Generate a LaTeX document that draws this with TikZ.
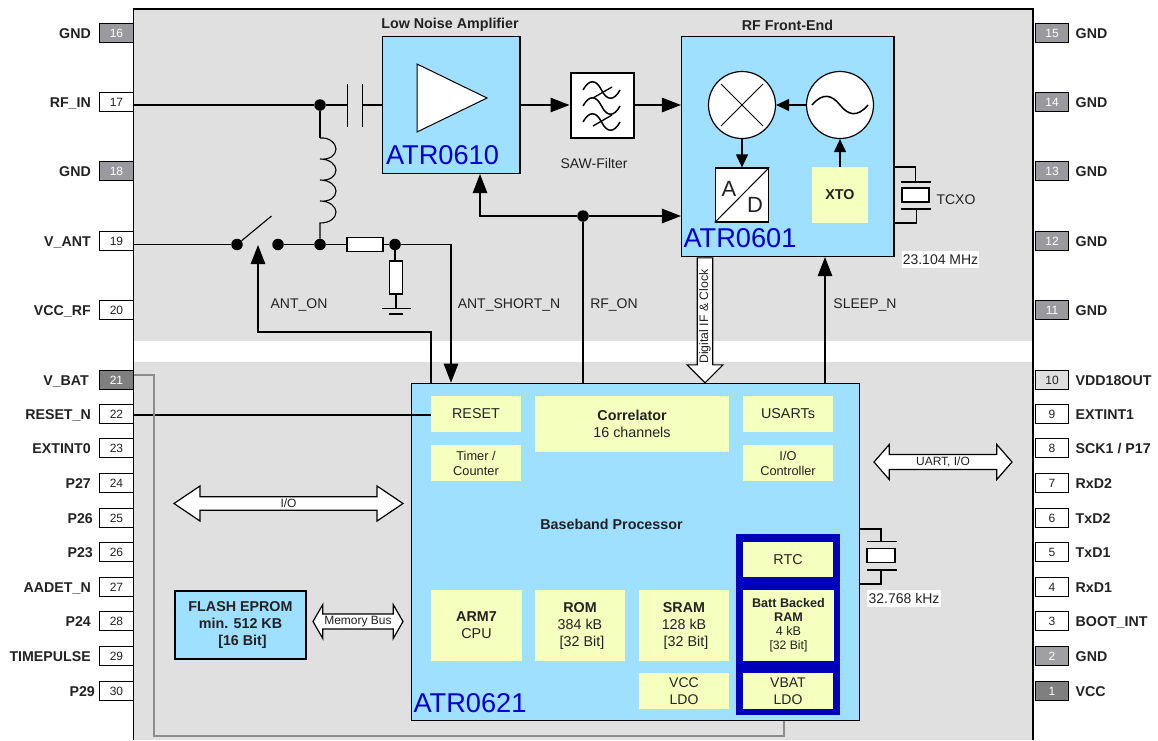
\documentclass[tikz,border=0pt]{standalone}
\usepackage{fontspec}
\setmainfont{Liberation Sans}
\usetikzlibrary{arrows.meta,shapes.arrows,calc}
\definecolor{chipgray}{HTML}{E0E0E0}
\definecolor{iceblue}{HTML}{9FDFFF}
\definecolor{paleyellow}{HTML}{F5FFBE}
\definecolor{deepblue}{HTML}{0000BB}
\definecolor{partblue}{HTML}{0000CC}
\definecolor{inkgray}{HTML}{222222}
\tikzset{
  pinbox/.style={draw=black,line width=1.1pt,minimum width=33.5pt,minimum height=19.5pt,inner sep=0pt,font=\fontsize{12}{14}\selectfont},
  pinname/.style={font=\fontsize{14.2}{16}\selectfont\bfseries,text=inkgray,inner sep=0pt,text height=10pt,text depth=0pt},
  caption/.style={font=\fontsize{14}{16}\selectfont,text=inkgray,inner sep=0pt,text height=10pt,text depth=0pt},
  title/.style={font=\fontsize{14.3}{16}\selectfont\bfseries,text=inkgray,inner sep=0pt},
  block/.style={draw=black,line width=1.1pt,fill=iceblue,inner sep=0pt},
  ybox/.style={fill=paleyellow,inner sep=0pt,align=center,text=inkgray,font=\fontsize{14.3}{17}\selectfont,execute at begin node={\vspace*{3pt}}},
  partno/.style={font=\fontsize{27.2}{30}\selectfont,text=partblue,inner sep=0pt},
  dot/.style={circle,fill=black,minimum size=11.5pt,inner sep=0pt},
  wire/.style={line width=1.1pt},
  sig/.style={line width=1.1pt,-{Triangle[length=19pt,width=14.5pt]}},
  smallsig/.style={line width=1.1pt,-{Triangle[length=13pt,width=12pt]}},
  bus/.style={double arrow,draw=black,line width=1.2pt,fill=white,inner sep=0pt,font=\fontsize{12}{14}\selectfont,text=inkgray},
}
\begin{document}
\begin{tikzpicture}[x=1pt,y=-1pt]
  \useasboundingbox (0,0) rectangle (1158,740);
  % package
  \fill[chipgray] (133.5,9) rectangle (1033,740);
  \fill[white] (134,341) rectangle (1032,362);
  \draw[line width=1.1pt] (133.5,740) -- (133.5,9) -- (1033,9) -- (1033,740);
  % left pins
  \foreach \n/\y/\f/\t/\s/\e in {16/33/GND/white/9A9A9E/91,17/102/RF\_IN/inkgray/FFFFFF/91,18/171/GND/white/9A9A9E/91,
      19/241/V\_ANT/inkgray/FFFFFF/91,20/310/VCC\_RF/inkgray/FFFFFF/91,21/380/V\_BAT/white/7F7F7F/89,
      22/414/RESET\_N/inkgray/FFFFFF/91,23/448/EXTINT0/inkgray/FFFFFF/91,24/483/P27/inkgray/FFFFFF/91,
      25/518/P26/inkgray/FFFFFF/93,26/552/P23/inkgray/FFFFFF/93,27/587/AADET\_N/inkgray/FFFFFF/91,
      28/621/P24/inkgray/FFFFFF/91,29/656/TIMEPULSE/inkgray/FFFFFF/91,30/691/P29/inkgray/FFFFFF/95}{
    \definecolor{pinfill}{HTML}{\s}
    \node[pinbox,fill=pinfill,text=\t] (pin\n) at (116.5,\y) {\n};
    \node[pinname,anchor=east] (name\n) at (\e,\y) {\f};
  }
  % right pins
  \foreach \n/\y/\f/\t/\s in {15/33/GND/white/9A9A9E,14/102/GND/white/9A9A9E,13/171/GND/white/9A9A9E,
      12/241/GND/white/9A9A9E,11/310/GND/white/9A9A9E,10/380/VDD18OUT/inkgray/DFDFDF,
      9/414/EXTINT1/inkgray/FFFFFF,8/448/{SCK1 / P17}/inkgray/FFFFFF,7/483/RxD2/inkgray/FFFFFF,
      6/518/TxD2/inkgray/FFFFFF,5/552/TxD1/inkgray/FFFFFF,4/587/RxD1/inkgray/FFFFFF,
      3/621/BOOT\_INT/inkgray/FFFFFF,2/656/GND/white/A0A0A4,1/691/VCC/white/7F7F7F}{
    \definecolor{pinfill}{HTML}{\s}
    \node[pinbox,fill=pinfill,text=\t] (pin\n) at (1052,\y) {\n};
    \node[pinname,anchor=west] (name\n) at (1075.5,\y) {\f};
  }
  % low noise amplifier
  \node[block,minimum width=137.5pt,minimum height=137pt] (lna) at (451.25,105) {};
  \node[title] (lnatitle) at (450,25) {Low Noise Amplifier};
  \node[partno] (atr0610) at (442.5,155) {ATR0610};
  \draw[line width=1pt,fill=white] (417,64) -- (487,98) -- (417,132) -- cycle;
  % saw filter
  \node[draw=black,line width=2pt,fill=white,minimum width=63pt,minimum height=65pt,inner sep=0pt] (saw) at (602,105) {};
  \node[caption] (sawname) at (594,163) {SAW-Filter};
  \foreach \y in {90,106,122}{
    \draw[line width=1.5pt] (583,\y) .. controls (589,\y-11) and (596,\y-11) .. (601.5,\y) .. controls (607,\y+11) and (614,\y+11) .. (620,\y);
  }
  \draw[line width=1.3pt] (593,98) -- (612,87);
  \draw[line width=1.3pt] (593,126) -- (612,115);
  % rf front end
  \node[block,minimum width=212.5pt,minimum height=220pt] (rffe) at (787.75,146.5) {};
  \node[title] (rftitle) at (787.5,25) {RF Front-End};
  \node[partno] (atr0601) at (740,238.5) {ATR0601};
  \node[circle,draw=black,line width=1.2pt,fill=white,minimum size=67pt,inner sep=0pt] (mixer) at (742,105) {};
  \node[circle,draw=black,line width=1.2pt,fill=white,minimum size=67pt,inner sep=0pt] (osc) at (840,105) {};
  \draw[line width=0.9pt] ($(mixer)+(-21,-21)$) -- ($(mixer)+(21,21)$);
  \draw[line width=0.9pt] ($(mixer)+(-21,21)$) -- ($(mixer)+(21,-21)$);
  \draw[line width=1.5pt] ($(osc)+(-28,0)$) .. controls ($(osc)+(-17,-13)$) and ($(osc)+(-8,-10)$) .. (osc.center) .. controls ($(osc)+(8,10)$) and ($(osc)+(17,13)$) .. ($(osc)+(28,0)$);
  \node[draw=black,line width=1.2pt,fill=white,minimum width=53.5pt,minimum height=54pt,inner sep=0pt] (adc) at (742,195) {};
  \draw[line width=1pt] (adc.south west) -- (adc.north east);
  \node[font=\fontsize{22}{24}\selectfont,inner sep=0pt,text=inkgray] (adca) at (729,188.5) {A};
  \node[font=\fontsize{22}{24}\selectfont,inner sep=0pt,text=inkgray] (adcd) at (755,205) {D};
  \node[ybox,minimum width=56pt,minimum height=56pt,font=\fontsize{14.3}{16}\selectfont\bfseries] (xto) at (840,195) {XTO};
  % tcxo
  \coordinate (tcxotop) at (915.5,182);
  \coordinate (tcxobot) at (916.5,209);
  \draw[line width=1.5pt] (rffe.east|-0,167) -| (tcxotop);
  \draw[line width=1.5pt] (rffe.east|-0,223) -| (tcxobot);
  \draw[line width=1.5pt] (901,182) -- (931,182) (901,209) -- (931,209);
  \node[draw=black,line width=1.2pt,fill=white,minimum width=27pt,minimum height=14pt,inner sep=0pt] (tcxo) at (915.5,195) {};
  \node[caption] (tcxoname) at (956,199) {TCXO};
  \node[caption,fill=white,minimum width=77pt,minimum height=17pt] (tcxofreq) at (940.5,259.5) {23.104 MHz};
  % signal wires
  \node[dot] (dotrf) at (320,105) {};
  \node[dot] (dotsw) at (237,244.5) {};
  \node[dot] (dotopen) at (278,244.5) {};
  \node[dot] (dotant) at (320,244.5) {};
  \node[dot] (dotshort) at (395,244.5) {};
  \node[dot] (doton) at (583,216) {};
  \coordinate (capa) at (347,105);
  \coordinate (capb) at (362,105);
  \draw[wire] (pin17.east|-dotrf) -- (dotrf) -- (capa);
  \draw[line width=1pt] (347,84) -- (347,127) (362,84) -- (362,127);
  \draw[wire] (capb) -- (lna.west|-capb);
  \draw[wire] (dotrf) -- (320,138);
  \draw[wire] (320,138) .. controls (330,137) and (336,144) .. (336,149) .. controls (336,155) and (330,160) .. (320,159)
     .. controls (330,159) and (336,165) .. (336,170) .. controls (336,176) and (330,181) .. (320,180)
     .. controls (330,180) and (336,186) .. (336,191) .. controls (336,197) and (330,202) .. (320,201)
     .. controls (330,201) and (336,207) .. (336,212) .. controls (336,218) and (330,223) .. (320,223) -- (dotant);
  \draw[wire] (pin19.east|-dotsw) -- (dotsw);
  \draw[wire] (dotsw) -- (271.5,216);
  \draw[wire] (dotopen) -- (dotant);
  \draw[wire] (dotant) -- (dotshort);
  \node[draw=black,line width=1.1pt,fill=white,minimum width=36pt,minimum height=13.5pt,inner sep=0pt] (rser) at (365,244.5) {};
  \node[draw=black,line width=1.1pt,fill=white,minimum width=12.5pt,minimum height=33pt,inner sep=0pt] (rshunt) at (396,277.5) {};
  \coordinate (gnda) at (396,308.5);
  \draw[wire] (dotshort) -- (dotshort|-rshunt.north) (rshunt.south) -- (gnda);
  \draw[wire] (382,308.5) -- (411,308.5) (389,314) -- (403,314);
  % baseband processor
  \node[block,minimum width=448pt,minimum height=337.5pt] (bbp) at (635.25,552) {};
  \node[partno] (atr0621) at (470,703.5) {ATR0621};
  \node[title] (bbptitle) at (611.5,524) {Baseband Processor};
  \fill[deepblue] (736,534) rectangle (840,715);
  \node[ybox,minimum width=90pt,minimum height=36pt] (reset) at (476,414) {RESET};
  \node[ybox,minimum width=90pt,minimum height=36pt,font=\fontsize{12.8}{15}\selectfont] (timer) at (476,463) {Timer /\\Counter};
  \node[ybox,minimum width=194pt,minimum height=56pt] (corr) at (632,424) {\textbf{Correlator}\\16 channels};
  \node[ybox,minimum width=90pt,minimum height=36pt] (usart) at (788,414) {USARTs};
  \node[ybox,minimum width=90pt,minimum height=36pt,font=\fontsize{12.8}{15}\selectfont] (ioctl) at (788,463) {I/O\\Controller};
  \node[ybox,minimum width=90pt,minimum height=35pt] (rtc) at (788,559.5) {RTC};
  \node[ybox,minimum width=91pt,minimum height=71pt,font=\fontsize{12.6}{14}\selectfont] (battram) at (788.5,625.5) {\textbf{Batt Backed}\\\textbf{RAM}\\4 kB\\{\fontsize{12.2}{14}\selectfont [32 Bit]}};
  \node[ybox,minimum width=90pt,minimum height=36pt,font=\fontsize{14}{16.5}\selectfont] (vbat) at (788,691) {VBAT\\LDO};
  \node[ybox,minimum width=91pt,minimum height=71pt] (arm) at (476.5,625.5) {\textbf{ARM7}\\CPU};
  \node[ybox,minimum width=90pt,minimum height=71pt] (rom) at (580,625.5) {\textbf{ROM}\\384 kB\\{} [32 Bit]};
  \node[ybox,minimum width=90pt,minimum height=71pt] (sram) at (684,625.5) {\textbf{SRAM}\\128 kB\\{} [32 Bit]};
  \node[ybox,minimum width=90pt,minimum height=36pt,font=\fontsize{14}{16.5}\selectfont] (vcc) at (684,691) {VCC\\LDO};
  % control lines
  \draw[sig] (dotshort) -| (bbp.north-|451,0);
  \draw[sig] (bbp.north-|431,0) |- (258,332) -- (258,245);
  \draw[wire] (bbp.north-|583,0) -- (doton);
  \draw[sig] (doton) -- (rffe.west|-doton);
  \draw[sig] (doton) -| (lna.south-|480,0);
  \draw[sig] (bbp.north-|825,0) -- (rffe.south-|825,0);
  \draw[sig] (lna.east|-capa) -- (saw.west|-capa);
  \draw[sig] (saw.east|-capa) -- (rffe.west|-capa);
  \draw[smallsig] (osc.west) -- (mixer.east);
  \draw[smallsig] (mixer.south) -- (adc.north-|mixer.south);
  \draw[smallsig] (xto.north) -- (osc.south);
  \draw[wire] (pin22.east|-0,415) -- (reset.west|-0,415);
  \draw[line width=1.1pt,color=black!45] (pin21.east|-0,375) -- (154,375) -- (154,736) -- (784,736) -- (bbp.south-|784,0);
  % 32 kHz crystal
  \coordinate (xtaltop) at (881,541.5);
  \coordinate (xtalbot) at (881,570);
  \draw[line width=1.5pt] (bbp.east|-0,529) -| (xtaltop);
  \draw[line width=1.5pt] (bbp.east|-0,584) -| (xtalbot);
  \draw[line width=1.5pt] (867,541.5) -- (897,541.5) (867,570) -- (897,570);
  \node[draw=black,line width=1.2pt,fill=white,minimum width=28pt,minimum height=13.5pt,inner sep=0pt] (xtal) at (881,555.5) {};
  \node[caption,fill=white,minimum width=74pt,minimum height=17pt] (xtalfreq) at (904,598.5) {32.768 kHz};
  % control labels
  \node[caption] (anton) at (299,303.5) {ANT\_ON};
  \node[caption] (antshort) at (509,303.5) {ANT\_SHORT\_N};
  \node[caption] (rfon) at (614,303) {RF\_ON};
  \node[caption] (sleep) at (865,303) {SLEEP\_N};
  % buses
  \node[single arrow,draw=black,line width=1.2pt,fill=white,inner sep=0pt,shape border rotate=180,rotate=90,
    minimum height=125pt,minimum width=36pt,single arrow head extend=8.5pt,single arrow tip angle=90,
    font=\fontsize{12.3}{14}\selectfont,text=inkgray] (digif) at (705,316.5) {Digital IF \& Clock};
  \node[bus,minimum height=229pt,minimum width=35pt,double arrow head extend=8pt,double arrow tip angle=68] (iobus) at (288.5,503.5) {I/O};
  \node[bus,minimum height=90pt,minimum width=34pt,double arrow head extend=7.5pt,double arrow tip angle=120] (membus) at (358,621.5) {Memory Bus};
  \node[bus,minimum height=138pt,minimum width=35pt,double arrow head extend=7.5pt,double arrow tip angle=98] (uart) at (943,462) {UART, I/O};
  % flash
  \node[block,minimum width=131pt,minimum height=68pt,align=center,text=inkgray,font=\fontsize{14.3}{17}\selectfont\bfseries,execute at begin node={\vspace*{3pt}}] (flash) at (240.5,625) {FLASH EPROM\\min. 512 KB\\{} [16 Bit]};
\end{tikzpicture}
\end{document}
